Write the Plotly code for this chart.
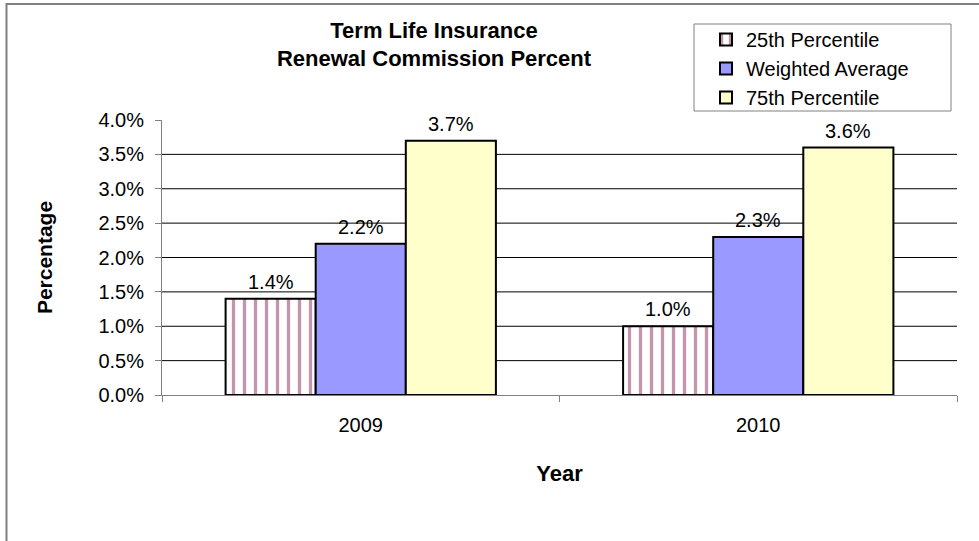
import plotly.graph_objects as go

years = ["2009", "2010"]
series_names = ["25th Percentile", "Weighted Average", "75th Percentile"]
p25 = [0.014, 0.010]
wavg = [0.022, 0.023]
p75 = [0.037, 0.036]
y_ticks = [0.0, 0.005, 0.01, 0.015, 0.02, 0.025, 0.03, 0.035, 0.04]

W, H = 979, 541
L, R, T, B = 162, 22, 120, 146
pw = W - L - R
ph = H - T - B
BARGAP = 0.32

def px(x):
    return (x - L) / pw

def py(y):
    return (H - B - y) / ph

FONT = "Liberation Sans, Arial, sans-serif"
colors = ["white", "#9999FF", "#FFFFCC"]
series_vals = [p25, wavg, p75]

fig = go.Figure()
for i, (name, vals) in enumerate(zip(series_names, series_vals)):
    marker = dict(color=colors[i], line=dict(color="black", width=2))
    if i == 0:
        marker["pattern"] = dict(shape="|", fgcolor="#8a2a5e", bgcolor="white", size=11, solidity=0.3)
    fig.add_trace(go.Bar(name=name, x=years, y=vals, marker=marker))

# data labels placed above each bar (positions from data, offsets from bar layout)
bar_w = pw / len(years) * (1 - BARGAP) / len(series_vals)
annotations = []
for i, vals in enumerate(series_vals):
    for j, v in enumerate(vals):
        annotations.append(dict(
            x=j, y=v, xref="x", yref="y", text=f"{v*100:.1f}%", showarrow=False,
            xshift=(i - 1) * bar_w, yshift=4, yanchor="bottom", xanchor="center",
            font=dict(family=FONT, size=20, color="black")))

shapes = [
    dict(type="rect", xref="paper", yref="paper",
         x0=px(6.5), x1=px(982), y0=py(548), y1=py(4),
         line=dict(color="#808080", width=2), layer="below"),
    dict(type="rect", xref="paper", yref="paper",
         x0=px(694), x1=px(951), y0=py(111), y1=py(24),
         line=dict(color="#808080", width=1), fillcolor="white", layer="below"),
]
for t in y_ticks[1:-1]:
    shapes.append(dict(type="line", xref="paper", yref="y", x0=0, x1=1, y0=t, y1=t,
                       line=dict(color="black", width=1), layer="below"))

fig.update_layout(
    width=W, height=H,
    margin=dict(l=L, r=R, t=T, b=B, autoexpand=False),
    paper_bgcolor="white", plot_bgcolor="white",
    barmode="group", bargap=BARGAP, bargroupgap=0,
    font=dict(family=FONT, color="black"),
    title=dict(text="<b>Term Life Insurance<br>Renewal Commission Percent</b>",
               x=px(434), xref="paper", xanchor="center",
               y=1 - 37.5 / H, yref="container", yanchor="middle",
               font=dict(family=FONT, size=22, color="black")),
    legend=dict(x=px(706), y=py(20), xanchor="left", yanchor="top",
                traceorder="normal", bgcolor="rgba(0,0,0,0)", borderwidth=0,
                font=dict(family=FONT, size=20, color="black"),
                itemsizing="constant"),
    yaxis=dict(range=[0, 0.04], tickvals=y_ticks, tickformat=".1%",
               showgrid=False,
               showline=True, linecolor="#808080", linewidth=1,
               ticks="outside", ticklen=6, tickcolor="#808080",
               ticklabelstandoff=7,
               tickfont=dict(family=FONT, size=20, color="black"),
               zeroline=False,
               title=dict(text="<b>Percentage</b>", standoff=40,
                          font=dict(family=FONT, size=21, color="black"))),
    xaxis=dict(type="category", range=[-0.5, len(years) - 0.5],
               showline=True, linecolor="#808080", linewidth=1,
               ticks="outside", ticklen=6, tickcolor="#808080", tickson="boundaries",
               ticklabelstandoff=12, tickangle=0,
               tickfont=dict(family=FONT, size=20, color="black"),
               title=dict(text="<b>Year</b>", standoff=30,
                          font=dict(family=FONT, size=22, color="black"))),
    shapes=shapes,
    annotations=annotations,
)

fig.write_html("out.html", config={"displayModeBar": False},
               post_script="document.body.style.margin='0';document.body.style.overflow='hidden';")
